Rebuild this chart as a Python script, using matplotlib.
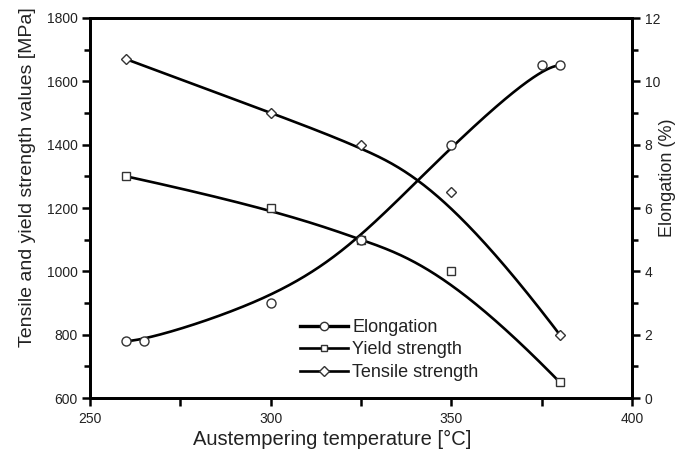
import numpy as np
import matplotlib
matplotlib.use("Agg")
import matplotlib.pyplot as plt
from matplotlib.lines import Line2D

plt.rcParams['font.family'] = ['Liberation Sans', 'DejaVu Sans']

# Data
elong_x = [260, 265, 300, 325, 350, 375, 380]
elong_y = [1.8, 1.8, 3.0, 5.0, 8.0, 10.5, 10.5]          # %
yield_x = [260, 300, 325, 350, 380]
yield_y = [1300, 1200, 1100, 1000, 650]                  # MPa
tensile_x = [260, 300, 325, 350, 380]
tensile_y = [1670, 1500, 1400, 1250, 800]                # MPa

x_ticks = [250, 300, 350, 400]
left_ticks = [600, 800, 1000, 1200, 1400, 1600, 1800]
right_ticks = [0, 2, 4, 6, 8, 10, 12]

series_labels = ['Elongation', 'Yield strength', 'Tensile strength']

TXT = '#222222'
MEC = '#333333'

fig = plt.figure(figsize=(6.82, 4.61), dpi=100)
ax = fig.add_axes([90/682, 1-398/461, (632-90)/682, (398-18)/461])
ax2 = ax.twinx()


def bspline_curve(xs, ys, k=3, n=400):
    """Clamped uniform B-spline using the data points as control points
    (the 'B-spline' line connection of the original plotting program)."""
    P = np.column_stack([np.asarray(xs, float), np.asarray(ys, float)])
    m = len(P)
    k = min(k, m - 1)
    knots = np.concatenate([np.zeros(k), np.linspace(0, 1, m - k + 1), np.ones(k)])
    t = np.linspace(0, 1, n)
    nb = len(knots) - 1
    N = np.zeros((n, nb))
    for i in range(nb):
        N[:, i] = (knots[i] <= t) & (t < knots[i + 1])
    last = max(i for i in range(nb) if knots[i + 1] > knots[i])
    N[t >= 1.0, last] = 1.0
    for p in range(1, k + 1):
        Nn = np.zeros((n, nb - p))
        for i in range(nb - p):
            d1 = knots[i + p] - knots[i]
            d2 = knots[i + p + 1] - knots[i + 1]
            a = (t - knots[i]) / d1 * N[:, i] if d1 > 0 else 0.0
            b = (knots[i + p + 1] - t) / d2 * N[:, i + 1] if d2 > 0 else 0.0
            Nn[:, i] = a + b
        N = Nn
    C = N @ P
    return C[:, 0], C[:, 1]


# Strength curves on left axis
for xs, ys, mk, ms in [(yield_x, yield_y, 's', 5.2), (tensile_x, tensile_y, 'D', 5.2)]:
    cx, cy = bspline_curve(xs, ys)
    ax.plot(cx, cy, color='black', lw=1.9, zorder=2)
    ax.plot(xs, ys, ls='none', marker=mk, ms=ms, mfc='white', mec=MEC, mew=1.0, zorder=3)

# Elongation on right axis
cx, cy = bspline_curve(elong_x, elong_y)
ax2.plot(cx, cy, color='black', lw=1.9, zorder=2)
ax2.plot(elong_x, elong_y, ls='none', marker='o', ms=6.5, mfc='white', mec=MEC, mew=1.0, zorder=3)

ax.set_xlim(250, 400)
ax.set_ylim(600, 1800)
ax2.set_ylim(0, 12)

ax.set_xticks(x_ticks)
ax.set_xticks([275, 325, 375], minor=True)
ax.set_yticks(left_ticks)
ax.set_yticks(np.arange(700, 1800, 200), minor=True)
ax2.set_yticks(right_ticks)
ax2.set_yticks(np.arange(1, 12, 2), minor=True)

for a in (ax, ax2):
    for s in a.spines.values():
        s.set_linewidth(2.0)
        s.set_color('black')

ax.tick_params(axis='x', which='major', length=6, width=1.8, direction='out', pad=4,
               labelsize=10, labelcolor=TXT)
ax.tick_params(axis='x', which='minor', length=6, width=1.8, direction='out')
ax.tick_params(axis='y', which='major', length=6, width=1.8, direction='out',
               labelsize=10, labelcolor=TXT, pad=3)
ax.tick_params(axis='y', which='minor', length=4, width=1.8, direction='out')
ax2.tick_params(axis='y', which='major', length=6, width=1.8, direction='out',
                labelsize=10, labelcolor=TXT, pad=3)
ax2.tick_params(axis='y', which='minor', length=4, width=1.8, direction='out')

ax.set_xlabel('Austempering temperature [°C]', fontsize=14.5, color=TXT)
ax.xaxis.set_label_coords((332 - 90) / 542, (398 - 430) / 380)
ax.set_ylabel('Tensile and yield strength values [MPa]', fontsize=14, color=TXT)
ax.yaxis.set_label_coords((36 - 90) / 542, (398 - 177) / 380)
ax2.set_ylabel('Elongation (%)', fontsize=13, color=TXT)
ax2.yaxis.set_label_coords((659 - 90) / 542, (398 - 178) / 380)

handles = [
    Line2D([], [], color='black', lw=2.4, marker='o', ms=6.0, mfc='white', mec=MEC, mew=1.0),
    Line2D([], [], color='black', lw=1.9, marker='s', ms=5.0, mfc='white', mec=MEC, mew=1.0),
    Line2D([], [], color='black', lw=1.9, marker='D', ms=5.0, mfc='white', mec=MEC, mew=1.0),
]
leg = ax.legend(handles, series_labels, loc='upper left', bbox_to_anchor=(300/682, 1-319/461),
                bbox_transform=fig.transFigure, frameon=False, fontsize=13,
                handlelength=2.65, handletextpad=0.25, labelspacing=0.3, borderpad=0, borderaxespad=0)
for t in leg.get_texts():
    t.set_color(TXT)

fig.savefig('out.png', dpi=100)
